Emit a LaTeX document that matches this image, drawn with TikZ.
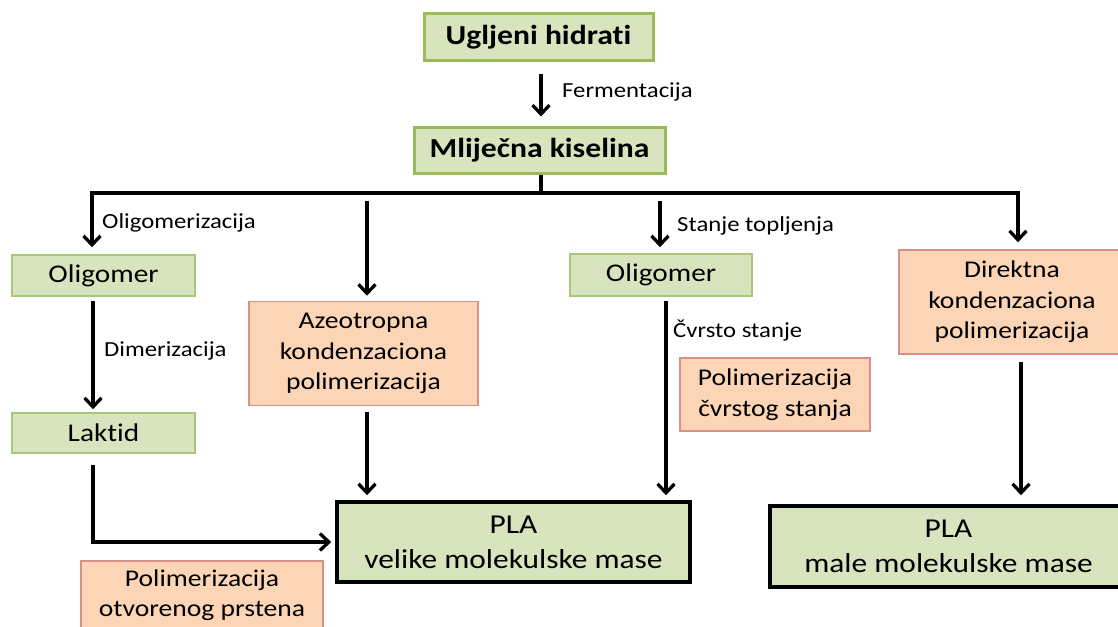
\documentclass[tikz,border=0pt]{standalone}
\usepackage{fontspec}
\setmainfont{Carlito}[FakeStretch=1.15, Ligatures={NoCommon}]
\usetikzlibrary{arrows.meta}

\definecolor{boxgreen}{HTML}{D7E4BD}
\definecolor{edgegreen}{HTML}{9BBB59}
\definecolor{lightedge}{HTML}{A9C77C}
\definecolor{boxorange}{HTML}{FBD5B5}
\definecolor{edgeorange}{HTML}{DB8F8A}

\tikzset{
  headbox/.style={draw=edgegreen, line width=3pt, fill=boxgreen, inner sep=0pt,
    font=\bfseries\fontsize{27.5}{30}\selectfont},
  stagebox/.style={draw=lightedge, line width=1.5pt, fill=boxgreen, inner sep=0pt,
    font=\fontsize{25.5}{30}\selectfont},
  procbox/.style={draw=edgeorange, line width=1.5pt, fill=boxorange, inner sep=0pt,
    align=center, font=\fontsize{24}{30.5}\selectfont},
  prodbox/.style={draw=black, line width=3.5pt, fill=boxgreen, inner sep=0pt,
    align=center, font=\fontsize{27.3}{35}\selectfont},
  steplabel/.style={anchor=base west, inner sep=0pt, font=\fontsize{21.5}{24}\selectfont},
  flow/.style={line width=3.3pt, -{Straight Barb[length=9pt,width=17pt]}},
  plain/.style={line width=3.3pt},
}

\begin{document}
\begin{tikzpicture}[x=1pt, y=-1pt]
\useasboundingbox (0,0) rectangle (1118,626);

% top of the chain
\node[headbox, minimum width=229, minimum height=47] (uh) at (538.5,37.5) {Ugljeni hidrati};
\node[headbox, minimum width=251, minimum height=46] (mk) at (539.5,150) {Mliječna kiselina};

% intermediate stages
\node[stagebox, minimum width=183, minimum height=41] (ol1) at (103.5,275.5) {Oligomer};
\node[stagebox, minimum width=183, minimum height=40] (lak) at (103.5,433) {Laktid};
\node[stagebox, minimum width=182, minimum height=42] (ol2) at (661,275) {Oligomer};

% polymerisation routes
\node[procbox, minimum width=229, minimum height=104] (azeo) at (363.5,353.5)
  {Azeotropna\\kondenzaciona\\polimerizacija};
\node[procbox, minimum width=190, minimum height=73] (pcs) at (775,394.5)
  {Polimerizacija\\čvrstog stanja};
\node[procbox, minimum width=226, minimum height=104] (dir) at (1012,302)
  {Direktna\\kondenzaciona\\polimerizacija};
\node[procbox, minimum width=242, minimum height=68] (pop) at (202,595)
  {Polimerizacija\\otvorenog prstena};

% products
\node[prodbox, minimum width=353, minimum height=80] (plav) at (513.5,542)
  {PLA\\velike molekulske mase};
\node[prodbox, minimum width=357, minimum height=81] (plam) at (948.5,546.5)
  {PLA\\male molekulske mase};

% branching bus below lactic acid
\coordinate (bus) at (541,193);
\coordinate (busL) at (92,193);
\coordinate (busR) at (1018,193);
\coordinate (azin) at (367,201);
\coordinate (olin) at (660,201);

\draw[flow, shorten <=11pt, shorten >=9pt] (uh.south -| bus) -- (mk.north -| bus);
\draw[plain] (mk.south -| bus) -- (bus);
\draw[plain, line cap=rect] (busL) -- (busR);

\draw[flow, shorten >=7pt] (busL) -- (busL |- ol1.north);
\draw[flow, shorten >=5pt] (azin) -- (azin |- azeo.north);
\draw[flow, shorten >=6pt] (olin) -- (olin |- ol2.north);
\draw[flow, shorten >=7pt] (busR) -- (busR |- dir.north);

% downstream flows
\coordinate (lx) at (93,0);
\coordinate (rx) at (666,0);
\coordinate (dx) at (1021,0);
\draw[flow, shorten <=4pt, shorten >=3pt] (lx |- ol1.south) -- (lx |- lak.north);
\draw[flow, shorten <=11pt, shorten >=4pt] (lx |- lak.south) |- (plav.west);
\draw[flow, shorten <=6pt, shorten >=5pt] (azin |- azeo.south) -- (azin |- plav.north);
\draw[flow, shorten <=4pt, shorten >=5pt] (rx |- ol2.south) -- (rx |- plav.north);
\draw[flow, shorten <=7pt, shorten >=9pt] (dx |- dir.south) -- (dx |- plam.north);

% step labels
\node[steplabel] (lferm) at (562,97) {Fermentacija};
\node[steplabel] (loligo) at (102,228) {Oligomerizacija};
\node[steplabel] (ldimer) at (104,356) {Dimerizacija};
\node[steplabel] (lmelt) at (677,231) {Stanje topljenja};
\node[steplabel] (lsolid) at (673,337) {Čvrsto stanje};
\end{tikzpicture}
\end{document}
